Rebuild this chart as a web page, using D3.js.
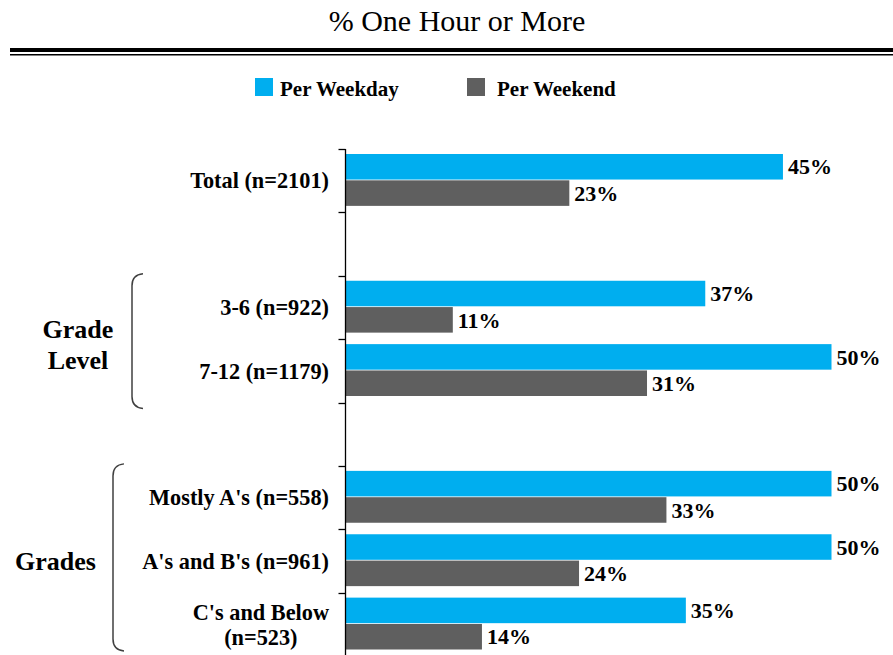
<!DOCTYPE html>
<html>
<head>
<meta charset="utf-8">
<script src="https://cdn.jsdelivr.net/npm/d3@7"></script>
<style>
  html, body { margin: 0; padding: 0; background: #fff; }
  svg { display: block; }
</style>
</head>
<body>
<svg id="chart" width="893" height="655" font-family="'Liberation Serif', 'Times New Roman', Times, 'DejaVu Serif', serif"></svg>
<script>
const title = "% One Hour or More";
const seriesNames = ["Per Weekday", "Per Weekend"];
const seriesColors = ["#00AEEF", "#5F5F5F"];
const categories = ["Total (n=2101)", "", "3-6 (n=922)", "7-12 (n=1179)", "", "Mostly A's (n=558)", "A's and B's (n=961)", "C's and Below\n(n=523)"];
const weekday = [45, null, 37, 50, null, 50, 50, 35];
const weekend = [23, null, 11, 31, null, 33, 24, 14];
const groupLabels = [["Grade", "Level"], ["Grades"]];
const groupFrom = [2, 5];
const groupTo = [3, 7];

const FONT = "'Liberation Serif', 'Times New Roman', Times, 'DejaVu Serif', serif";
const svg = d3.select("#chart");

// Title
svg.append("text")
  .attr("x", 457).attr("y", 31)
  .attr("text-anchor", "middle")
  .attr("font-family", FONT)
  .attr("font-size", 30)
  .attr("fill", "#000")
  .text(title);

// Double rule under title
svg.append("rect").attr("x", 10).attr("y", 48).attr("width", 883).attr("height", 4).attr("fill", "#000");
svg.append("rect").attr("x", 10).attr("y", 54).attr("width", 883).attr("height", 1.5).attr("fill", "#000");

// Legend
const legendSwatchX = [255, 467];
const legendTextX = [280, 497];
seriesNames.forEach((name, i) => {
  svg.append("rect").attr("x", legendSwatchX[i]).attr("y", 78).attr("width", 18).attr("height", 18).attr("fill", seriesColors[i]);
  svg.append("text").attr("x", legendTextX[i]).attr("y", 96)
    .attr("font-family", FONT)
    .attr("font-size", 21).attr("font-weight", "bold").attr("fill", "#000")
    .text(name);
});

// Scales
const x = d3.scaleLinear().domain([0, 50]).range([346, 831.5]);
const y = d3.scaleBand().domain(d3.range(categories.length)).range([149, 656]).padding(0);
const inner = d3.scaleBand().domain([0, 1]).range([5, y.bandwidth() - 6.5]).paddingInner(0.03);

// Bars
const series = [weekday, weekend];
series.forEach((vals, s) => {
  svg.append("g").selectAll("rect")
    .data(vals.map((v, i) => ({ v, i })).filter(d => d.v !== null))
    .join("rect")
    .attr("x", x(0))
    .attr("y", d => y(d.i) + inner(s))
    .attr("width", d => x(d.v) - x(0))
    .attr("height", inner.bandwidth())
    .attr("fill", seriesColors[s]);
  svg.append("g").selectAll("text")
    .data(vals.map((v, i) => ({ v, i })).filter(d => d.v !== null))
    .join("text")
    .attr("x", d => x(d.v) + 5)
    .attr("y", d => y(d.i) + inner(s) + inner.bandwidth() / 2)
    .attr("dy", "0.35em")
    .attr("font-family", FONT)
    .attr("font-size", 22).attr("font-weight", "bold").attr("fill", "#000")
    .text(d => d.v + "%");
});

// Axis line with ticks at band boundaries
const boundaries = d3.range(categories.length).map(i => y(i));
const axisG = svg.append("g");
axisG.append("line").attr("x1", 345.5).attr("x2", 345.5).attr("y1", 149).attr("y2", 656)
  .attr("stroke", "#000").attr("stroke-width", 1.3);
axisG.selectAll("line.tick").data(boundaries).join("line").attr("class", "tick")
  .attr("x1", 338.5).attr("x2", 345.5)
  .attr("y1", d => Math.round(d) + 0.5).attr("y2", d => Math.round(d) + 0.5)
  .attr("stroke", "#000").attr("stroke-width", 1.3);

// Category labels
const labelRight = 329;
categories.forEach((c, i) => {
  if (!c) return;
  const lines = c.split("\n");
  const cy = y(i) + y.bandwidth() / 2;
  const lh = 25;
  const t = svg.append("text")
    .attr("font-family", FONT)
    .attr("font-size", 22.3).attr("font-weight", "bold").attr("fill", "#000");
  if (lines.length === 1) {
    t.attr("x", labelRight).attr("y", cy).attr("dy", "0.35em").attr("text-anchor", "end").text(c);
  } else {
    t.attr("text-anchor", "middle");
    const spans = lines.map((ln, k) => t.append("tspan")
      .attr("y", cy + 7.7 + (k - (lines.length - 1) / 2) * lh)
      .text(ln));
    const maxW = d3.max(spans, sp => sp.node().getComputedTextLength());
    spans.forEach(sp => sp.attr("x", labelRight - maxW / 2));
  }
});

// Group brackets and labels
const bracketX = [132, 113];
const bracketBottomPad = [6, -5];
const groupLabelX = [78, 55.5];
groupLabels.forEach((label, k) => {
  const top = y(groupFrom[k]) - 2;
  const bot = y(groupTo[k]) + y.bandwidth() + bracketBottomPad[k];
  const bx = bracketX[k];
  const path = `M${bx + 11},${top} Q${bx},${top + 1} ${bx},${top + 12} L${bx},${bot - 12} Q${bx},${bot - 1} ${bx + 11},${bot}`;
  svg.append("path").attr("d", path).attr("fill", "none").attr("stroke", "#404040").attr("stroke-width", 1.5);
  const cy = (top + bot) / 2;
  const lh = 31;
  const t = svg.append("text").attr("text-anchor", "middle")
    .attr("font-family", FONT)
    .attr("font-size", 26).attr("font-weight", "bold").attr("fill", "#000");
  label.forEach((ln, j) => {
    t.append("tspan").attr("x", groupLabelX[k])
      .attr("y", cy + 12.5 + (j - (label.length - 1) / 2) * lh)
      .text(ln);
  });
});
</script>
</body>
</html>
